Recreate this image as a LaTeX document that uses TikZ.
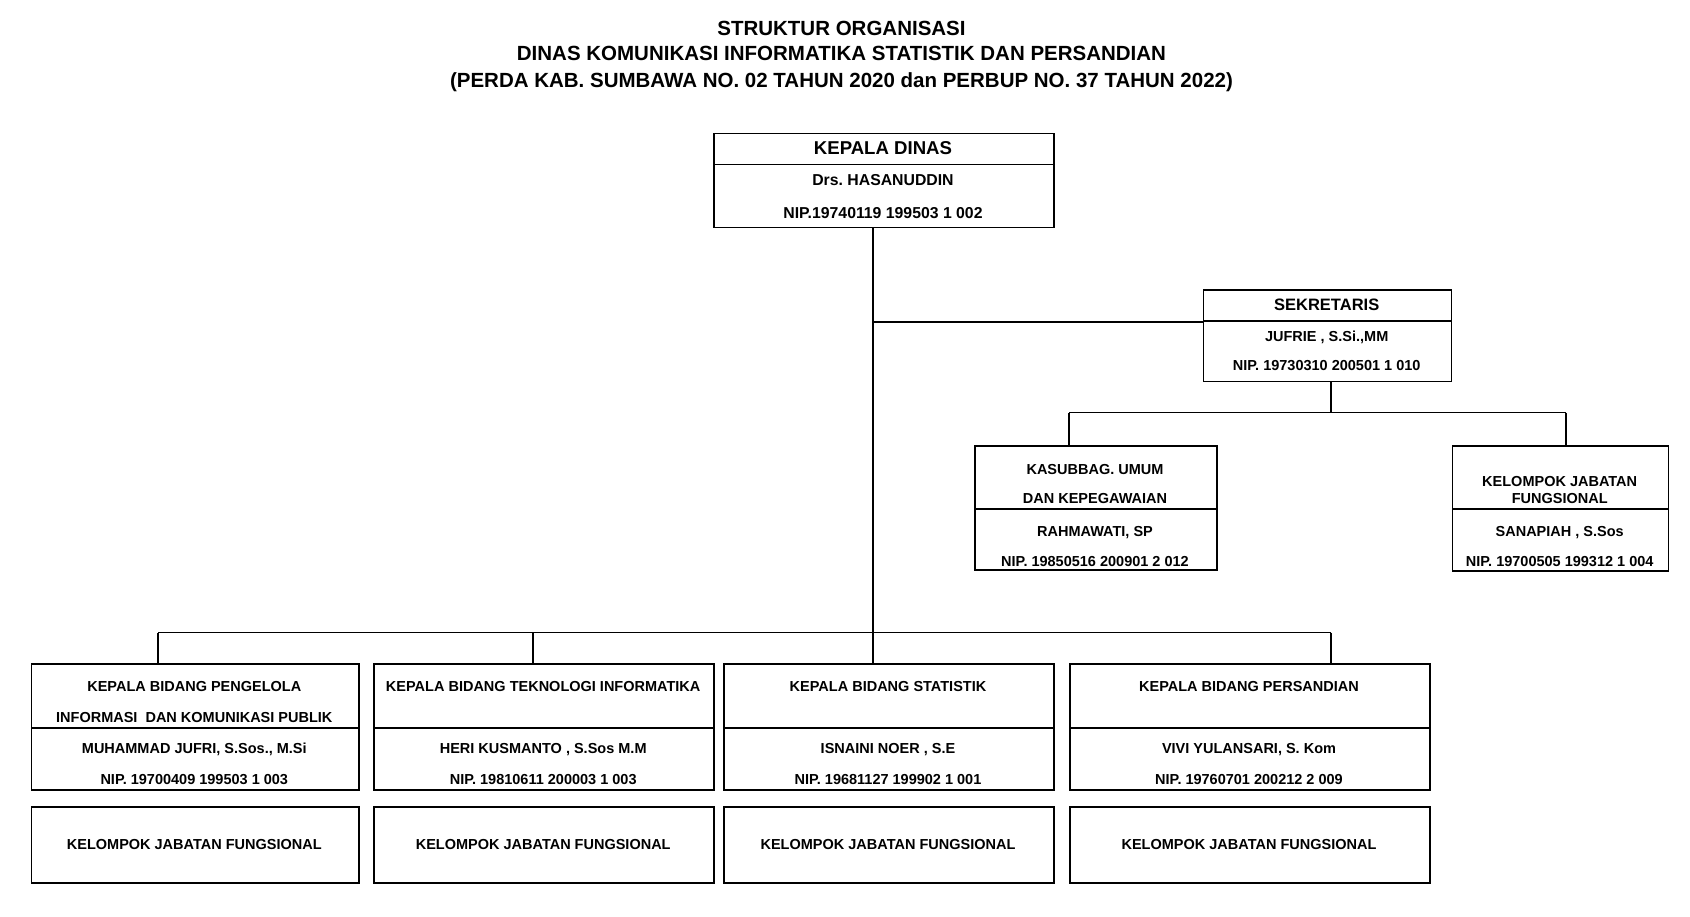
\documentclass[tikz,border=0pt]{standalone}
\usepackage{fontspec}
\setmainfont{Liberation Sans}
\usepackage{tikz}
\frenchspacing

\tikzset{
  kotak/.style={draw, line width=1.7pt, inner sep=0pt, anchor=north west},
  garis/.style={line width=1.7pt},
  teks/.style={anchor=base, inner sep=0pt, font=\bfseries\fontsize{14.5}{17}\selectfont},
  teksbesar/.style={anchor=base, inner sep=0pt, font=\bfseries\fontsize{15.8}{18}\selectfont},
  kepala/.style={anchor=base, inner sep=0pt, font=\bfseries\fontsize{18.6}{22}\selectfont},
  judul/.style={anchor=base, inner sep=0pt, font=\bfseries\fontsize{20.5}{24}\selectfont},
}

\begin{document}
\begin{tikzpicture}[x=1pt,y=-1pt]
  \useasboundingbox (0,0) rectangle (1690,916);

  % judul
  \node[judul] (judul1) at (841.5,35) {STRUKTUR ORGANISASI};
  \node[judul] (judul2) at (841.5,60.5) {DINAS KOMUNIKASI INFORMATIKA STATISTIK DAN PERSANDIAN};
  \node[judul] (judul3) at (841.5,87) {(PERDA KAB. SUMBAWA NO. 02 TAHUN 2020 dan PERBUP NO. 37 TAHUN 2022)};

  % kepala dinas
  \node[kotak, minimum width=340, minimum height=31] (kadis) at (713,132.7) {};
  \node[kotak, minimum width=340, minimum height=63] (kadisNip) at (713,163.7) {};
  \node[kepala] (kadisJab) at (883,154.5) {KEPALA DINAS};
  \node[teksbesar] (kadisNama) at (883,185) {Drs. HASANUDDIN};
  \node[teksbesar] (kadisNo) at (883,218.3) {NIP.19740119 199503 1 002};

  % sekretaris
  \node[kotak, minimum width=248, minimum height=30.7] (sek) at (1202.7,289.3) {};
  \node[kotak, minimum width=248, minimum height=60.7] (sekNip) at (1202.7,320) {};
  \node[teks, font=\bfseries\fontsize{16.5}{19}\selectfont] (sekJab) at (1326.7,310.7) {SEKRETARIS};
  \node[teks] (sekNama) at (1326.7,341) {JUFRIE , S.Si.,MM};
  \node[teks] (sekNo) at (1326.7,370) {NIP. 19730310 200501 1 010};

  % kasubbag umum
  \node[kotak, minimum width=242, minimum height=63.3] (umum) at (974,445) {};
  \node[kotak, minimum width=242, minimum height=61] (umumNip) at (974,508.3) {};
  \node[teks] (umumJab1) at (1095,474.3) {KASUBBAG. UMUM};
  \node[teks] (umumJab2) at (1095,503.3) {DAN KEPEGAWAIAN};
  \node[teks] (umumNama) at (1095,536) {RAHMAWATI, SP};
  \node[teks] (umumNo) at (1095,566) {NIP. 19850516 200901 2 012};

  % kelompok jabatan fungsional sekretariat
  \node[kotak, minimum width=216, minimum height=63.3] (jfSek) at (1451.7,445) {};
  \node[kotak, minimum width=216, minimum height=61.7] (jfSekNip) at (1451.7,508.3) {};
  \node[teks] (jfSekJab1) at (1559.7,486) {KELOMPOK JABATAN};
  \node[teks] (jfSekJab2) at (1559.7,503.3) {FUNGSIONAL};
  \node[teks] (jfSekNama) at (1559.7,536) {SANAPIAH , S.Sos};
  \node[teks] (jfSekNo) at (1559.7,566) {NIP. 19700505 199312 1 004};

  % kepala bidang
  \node[kotak, minimum width=327.3, minimum height=64] (bid1) at (30.7,663) {};
  \node[kotak, minimum width=327.3, minimum height=62] (bidNip1) at (30.7,727) {};
  \node[kotak, minimum width=327.3, minimum height=76] (jf1) at (30.7,806) {};
  \node[kotak, minimum width=339.7, minimum height=64] (bid2) at (373.3,663) {};
  \node[kotak, minimum width=339.7, minimum height=62] (bidNip2) at (373.3,727) {};
  \node[kotak, minimum width=339.7, minimum height=76] (jf2) at (373.3,806) {};
  \node[kotak, minimum width=330, minimum height=64] (bid3) at (723,663) {};
  \node[kotak, minimum width=330, minimum height=62] (bidNip3) at (723,727) {};
  \node[kotak, minimum width=330, minimum height=76] (jf3) at (723,806) {};
  \node[kotak, minimum width=360, minimum height=64] (bid4) at (1069,663) {};
  \node[kotak, minimum width=360, minimum height=62] (bidNip4) at (1069,727) {};
  \node[kotak, minimum width=360, minimum height=76] (jf4) at (1069,806) {};

  \node[teks] (bid1Jab1) at (194.3,691.7) {KEPALA BIDANG PENGELOLA};
  \node[teks] (bid1Jab2) at (194.3,722.7) {INFORMASI\ \ DAN KOMUNIKASI PUBLIK};
  \node[teks] (bid1Nama) at (194.3,753.3) {MUHAMMAD JUFRI, S.Sos., M.Si};
  \node[teks] (bid1No) at (194.3,784) {NIP. 19700409 199503 1 003};
  \node[teks] (jf1Jab) at (194.3,849) {KELOMPOK JABATAN FUNGSIONAL};

  \node[teks] (bid2Jab) at (543.2,691.7) {KEPALA BIDANG TEKNOLOGI INFORMATIKA};
  \node[teks] (bid2Nama) at (543.2,753.3) {HERI KUSMANTO , S.Sos M.M};
  \node[teks] (bid2No) at (543.2,784) {NIP. 19810611 200003 1 003};
  \node[teks] (jf2Jab) at (543.2,849) {KELOMPOK JABATAN FUNGSIONAL};

  \node[teks] (bid3Jab) at (888,691.7) {KEPALA BIDANG STATISTIK};
  \node[teks] (bid3Nama) at (888,753.3) {ISNAINI NOER , S.E};
  \node[teks] (bid3No) at (888,784) {NIP. 19681127 199902 1 001};
  \node[teks] (jf3Jab) at (888,849) {KELOMPOK JABATAN FUNGSIONAL};

  \node[teks] (bid4Jab) at (1249,691.7) {KEPALA BIDANG PERSANDIAN};
  \node[teks] (bid4Nama) at (1249,753.3) {VIVI YULANSARI, S. Kom};
  \node[teks] (bid4No) at (1249,784) {NIP. 19760701 200212 2 009};
  \node[teks] (jf4Jab) at (1249,849) {KELOMPOK JABATAN FUNGSIONAL};

  % garis komando
  \coordinate (cab1) at (158,632.5);
  \coordinate (cab2) at (533,632.5);
  \coordinate (cab3) at (873,632.5);
  \coordinate (cab4) at (1331,632.5);
  \coordinate (cabSek) at (1330.7,412.5);
  \coordinate (cabUmum) at (1069.3,412.5);
  \coordinate (cabJf) at (1565.7,412.5);

  \draw[garis] (cab3 |- kadisNip.south) -- (cab3);
  \draw[garis] (cab3 |- sek.south west) -- (sek.south west);
  \draw[garis] (cab1) -- (cab4);
  \draw[garis] (cab1) -- (cab1 |- bid1.north);
  \draw[garis] (cab2) -- (cab2 |- bid2.north);
  \draw[garis] (cab3) -- (cab3 |- bid3.north);
  \draw[garis] (cab4) -- (cab4 |- bid4.north);

  \draw[garis] (cabSek |- sekNip.south) -- (cabSek);
  \draw[garis] (cabUmum) -- (cabJf);
  \draw[garis] (cabUmum) -- (cabUmum |- umum.north);
  \draw[garis] (cabJf) -- (cabJf |- jfSek.north);

\end{tikzpicture}
\end{document}
